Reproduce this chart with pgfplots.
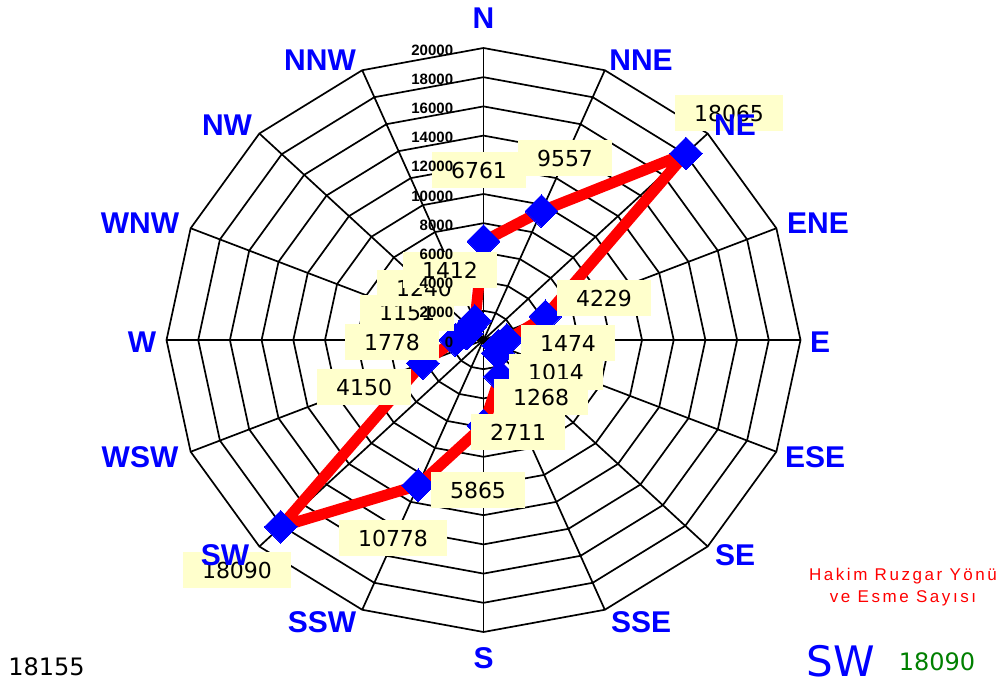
\documentclass[border=0pt]{standalone}
\usepackage{pgfplots}
\pgfplotsset{compat=1.18}
\usepackage{pgfplotstable}
\usepackage{fontspec}
\setmainfont{Liberation Sans}
\newfontfamily\numfont{DejaVu Sans}
\definecolor{lblbg}{RGB}{255,255,204}
\definecolor{dirblue}{RGB}{0,0,255}
\definecolor{sered}{RGB}{255,0,0}
\definecolor{dkgreen}{RGB}{0,128,0}

% wind direction (polar angle, N = 90, clockwise) and count
\pgfplotstableread{
ang r
90 6761
67.5 9557
45 18065
22.5 4229
0 1474
-22.5 1014
-45 1268
-67.5 2711
-90 5865
-112.5 10778
-135 18090
-157.5 4150
-180 1778
-202.5 1151
-225 1240
-247.5 1412
-270 6761
}\windtable

% data label box positions (axis units: thousands)
\pgfplotstableread{
x y lbl
-0.284 11.643 6761
5.142 12.465 9557
15.489 15.547 18065
7.602 2.877 4229
5.331 -0.205 1474
4.574 -2.192 1014
3.628 -3.904 1268
2.177 -6.301 2711
-0.347 -10.274 5865
-5.710 -13.561 10778
-15.552 -15.753 18090
-7.539 -3.219 4150
-5.773 -0.137 1778
-4.826 1.849 1151
-3.754 3.561 1240
-2.114 4.794 1412
}\labeltable

% direction labels
\pgfplotstableread{
x y lbl
0 22.054 N
9.937 19.178 NNE
15.867 14.726 NE
21.104 8.013 ENE
21.230 -0.137 E
20.915 -8.013 ESE
15.867 -14.726 SE
9.937 -19.314 SSE
0 -21.780 S
-10.189 -19.314 SSW
-16.309 -14.726 SW
-21.672 -8.013 WSW
-21.545 -0.137 W
-21.672 8.013 WNW
-16.183 14.726 NW
-10.315 19.178 NNW
}\dirtable

% radial tick labels
\pgfplotstableread{
x y lbl
0 0 0
0 2 2000
0 4 4000
0 6 6000
0 8 8000
0 10 10000
0 12 12000
0 14 14000
0 16 16000
0 18 18000
0 20 20000
}\ticktable

\begin{document}
\begin{tikzpicture}
\begin{axis}[
  scale only axis, width=504pt, height=343pt,
  xmin=-30.505, xmax=33.091, ymin=-23.699, ymax=23.288,
  hide axis, clip=false]
\path (rel axis cs:0,0) rectangle (rel axis cs:1,1);
% polygon rings
\pgfplotsinvokeforeach{2,4,...,20}{
  \addplot[black, line width=0.85pt, data cs=polar, forget plot, line join=miter]
    coordinates {(0,#1)(22.5,#1)(45,#1)(67.5,#1)(90,#1)(112.5,#1)(135,#1)(157.5,#1)(180,#1)
    (202.5,#1)(225,#1)(247.5,#1)(270,#1)(292.5,#1)(315,#1)(337.5,#1)(360,#1)};
}
% spokes
\pgfplotsinvokeforeach{0,22.5,...,337.5}{
  \addplot[black, line width=0.85pt, data cs=polar, forget plot]
    coordinates {(0,0)(#1,20)};
}
% series
\addplot[sered, line width=5.5pt, line join=round, data cs=polar,
  mark=square*, mark size=5.8pt,
  mark options={fill=dirblue, draw=dirblue, line width=0pt, rotate=45}]
  table[x=ang, y expr=\thisrow{r}/1000]{\windtable};
% data labels
\addplot[draw=none, nodes near coords, point meta=explicit symbolic,
  nodes near coords style={anchor=center, fill=lblbg, text=black,
    font=\numfont\fontsize{11}{13}\selectfont, inner xsep=9.5pt, inner ysep=5pt}]
  table[x=x, y=y, meta=lbl]{\labeltable};
% radial tick labels
\addplot[draw=none, nodes near coords, point meta=explicit symbolic,
  nodes near coords style={anchor=east, xshift=-15pt, yshift=-1pt, inner sep=0pt,
    text=black, font=\bfseries\fontsize{7.5}{9}\selectfont}]
  table[x=x, y=y, meta=lbl]{\ticktable};
% direction labels
\addplot[draw=none, nodes near coords, point meta=explicit symbolic,
  nodes near coords style={anchor=center, inner sep=0pt, text=dirblue,
    font=\bfseries\fontsize{15}{18}\selectfont}]
  table[x=x, y=y, meta=lbl]{\dirtable};
% extra texts
\node[anchor=west, inner sep=0pt, font=\numfont\fontsize{12}{14}\selectfont]
  at (axis cs:-29.999,-22.396) {18155};
\node[anchor=center, inner sep=0pt, text=dirblue, font=\numfont\fontsize{21}{24}\selectfont]
  at (axis cs:22.555,-21.985) {SW};
\node[anchor=center, inner sep=0pt, text=dkgreen, font=\numfont\fontsize{12}{14}\selectfont]
  at (axis cs:28.611,-22.054) {18090};
\node[anchor=center, inner sep=0pt, text=sered, align=center,
  font=\fontsize{8.5}{11}\selectfont\addfontfeature{LetterSpace=15}]
  at (axis cs:26.466,-16.917) {Hakim Ruzgar Yönü\\ve Esme Sayısı};
\end{axis}
\end{tikzpicture}
\end{document}
